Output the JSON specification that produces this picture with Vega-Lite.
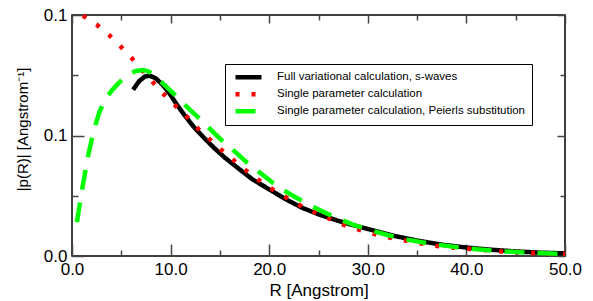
{
  "$schema": "https://vega.github.io/schema/vega-lite/v6.json",
  "width": 493,
  "height": 241,
  "autosize": {"type": "none"},
  "padding": {"left": 72, "top": 15, "right": 28, "bottom": 45},
  "background": "white",
  "config": {
    "view": {"stroke": "black", "strokeWidth": 1.5},
    "font": "Liberation Sans",
    "axis": {
      "grid": false, "domain": false, "tickColor": "#444", "tickWidth": 1.5,
      "labelFont": "Liberation Sans", "labelFontSize": 17, "labelColor": "black",
      "titleFont": "Liberation Sans", "titleFontSize": 17, "titleFontWeight": "normal", "titleColor": "black",
      "labelFlush": false, "labelOverlap": false
    },
    "legend": {
      "orient": "none", "legendX": 153, "legendY": 49, "strokeColor": "black", "fillColor": "white",
      "padding": 6, "symbolType": "stroke", "symbolSize": 676, "symbolStrokeWidth": 4.5,
      "labelFont": "Liberation Sans", "labelFontSize": 11.5, "labelColor": "black", "labelOffset": 13,
      "clipHeight": 14.5, "rowPadding": 2, "symbolOffset": 2, "labelLimit": 400
    }
  },
  "data": {"values": [
    {"series": "Full variational calculation, s-waves", "x": 6.2, "y": 0.0690},
    {"series": "Full variational calculation, s-waves", "x": 6.8, "y": 0.0725},
    {"series": "Full variational calculation, s-waves", "x": 7.4, "y": 0.0745},
    {"series": "Full variational calculation, s-waves", "x": 7.9, "y": 0.0748},
    {"series": "Full variational calculation, s-waves", "x": 8.5, "y": 0.0737},
    {"series": "Full variational calculation, s-waves", "x": 9.2, "y": 0.0710},
    {"series": "Full variational calculation, s-waves", "x": 9.9, "y": 0.0674},
    {"series": "Full variational calculation, s-waves", "x": 10.65, "y": 0.0627},
    {"series": "Full variational calculation, s-waves", "x": 11.4, "y": 0.0585},
    {"series": "Full variational calculation, s-waves", "x": 12.3, "y": 0.0538},
    {"series": "Full variational calculation, s-waves", "x": 13.3, "y": 0.0494},
    {"series": "Full variational calculation, s-waves", "x": 14.4, "y": 0.0449},
    {"series": "Full variational calculation, s-waves", "x": 15.5, "y": 0.0408},
    {"series": "Full variational calculation, s-waves", "x": 16.7, "y": 0.0369},
    {"series": "Full variational calculation, s-waves", "x": 18.3, "y": 0.0318},
    {"series": "Full variational calculation, s-waves", "x": 20.1, "y": 0.0274},
    {"series": "Full variational calculation, s-waves", "x": 21.7, "y": 0.0235},
    {"series": "Full variational calculation, s-waves", "x": 23.4, "y": 0.0199},
    {"series": "Full variational calculation, s-waves", "x": 25.2, "y": 0.0170},
    {"series": "Full variational calculation, s-waves", "x": 27.0, "y": 0.0146},
    {"series": "Full variational calculation, s-waves", "x": 28.5, "y": 0.0128},
    {"series": "Full variational calculation, s-waves", "x": 30.0, "y": 0.0112},
    {"series": "Full variational calculation, s-waves", "x": 32.5, "y": 0.0085},
    {"series": "Full variational calculation, s-waves", "x": 35.0, "y": 0.0064},
    {"series": "Full variational calculation, s-waves", "x": 37.5, "y": 0.0047},
    {"series": "Full variational calculation, s-waves", "x": 40.0, "y": 0.0035},
    {"series": "Full variational calculation, s-waves", "x": 42.5, "y": 0.0026},
    {"series": "Full variational calculation, s-waves", "x": 45.0, "y": 0.0019},
    {"series": "Full variational calculation, s-waves", "x": 47.5, "y": 0.0014},
    {"series": "Full variational calculation, s-waves", "x": 50.0, "y": 0.0011},

    {"series": "Single parameter calculation", "x": 1.1, "y": 0.0997},
    {"series": "Single parameter calculation", "x": 2.5, "y": 0.0960},
    {"series": "Single parameter calculation", "x": 3.75, "y": 0.0917},
    {"series": "Single parameter calculation", "x": 4.9, "y": 0.0871},
    {"series": "Single parameter calculation", "x": 6.0, "y": 0.0824},
    {"series": "Single parameter calculation", "x": 7.0, "y": 0.0776},
    {"series": "Single parameter calculation", "x": 8.1, "y": 0.0726},
    {"series": "Single parameter calculation", "x": 9.1, "y": 0.0680},
    {"series": "Single parameter calculation", "x": 10.2, "y": 0.0635},
    {"series": "Single parameter calculation", "x": 11.4, "y": 0.0589},
    {"series": "Single parameter calculation", "x": 12.5, "y": 0.0539},
    {"series": "Single parameter calculation", "x": 13.7, "y": 0.0494},
    {"series": "Single parameter calculation", "x": 14.8, "y": 0.0452},
    {"series": "Single parameter calculation", "x": 16.0, "y": 0.0411},
    {"series": "Single parameter calculation", "x": 17.2, "y": 0.0369},
    {"series": "Single parameter calculation", "x": 18.5, "y": 0.0328},
    {"series": "Single parameter calculation", "x": 19.8, "y": 0.0290},
    {"series": "Single parameter calculation", "x": 21.1, "y": 0.0257},
    {"series": "Single parameter calculation", "x": 22.5, "y": 0.0224},
    {"series": "Single parameter calculation", "x": 23.8, "y": 0.0195},
    {"series": "Single parameter calculation", "x": 25.4, "y": 0.0168},
    {"series": "Single parameter calculation", "x": 26.8, "y": 0.0141},
    {"series": "Single parameter calculation", "x": 28.2, "y": 0.0120},
    {"series": "Single parameter calculation", "x": 31.2, "y": 0.0085},
    {"series": "Single parameter calculation", "x": 34.5, "y": 0.0058},
    {"series": "Single parameter calculation", "x": 37.6, "y": 0.0038},
    {"series": "Single parameter calculation", "x": 40.7, "y": 0.0028},
    {"series": "Single parameter calculation", "x": 43.7, "y": 0.0018},
    {"series": "Single parameter calculation", "x": 47.0, "y": 0.0012},
    {"series": "Single parameter calculation", "x": 50.0, "y": 0.0009},

    {"series": "Single parameter calculation, Peierls substitution", "x": 0.5, "y": 0.0140},
    {"series": "Single parameter calculation, Peierls substitution", "x": 1.0, "y": 0.0270},
    {"series": "Single parameter calculation, Peierls substitution", "x": 1.6, "y": 0.0410},
    {"series": "Single parameter calculation, Peierls substitution", "x": 2.2, "y": 0.0520},
    {"series": "Single parameter calculation, Peierls substitution", "x": 2.8, "y": 0.0600},
    {"series": "Single parameter calculation, Peierls substitution", "x": 3.4, "y": 0.0650},
    {"series": "Single parameter calculation, Peierls substitution", "x": 4.0, "y": 0.0685},
    {"series": "Single parameter calculation, Peierls substitution", "x": 4.6, "y": 0.0712},
    {"series": "Single parameter calculation, Peierls substitution", "x": 5.2, "y": 0.0737},
    {"series": "Single parameter calculation, Peierls substitution", "x": 5.8, "y": 0.0755},
    {"series": "Single parameter calculation, Peierls substitution", "x": 6.5, "y": 0.0768},
    {"series": "Single parameter calculation, Peierls substitution", "x": 7.2, "y": 0.0772},
    {"series": "Single parameter calculation, Peierls substitution", "x": 7.8, "y": 0.0765},
    {"series": "Single parameter calculation, Peierls substitution", "x": 8.6, "y": 0.0740},
    {"series": "Single parameter calculation, Peierls substitution", "x": 9.5, "y": 0.0705},
    {"series": "Single parameter calculation, Peierls substitution", "x": 10.65, "y": 0.0660},
    {"series": "Single parameter calculation, Peierls substitution", "x": 12.0, "y": 0.0605},
    {"series": "Single parameter calculation, Peierls substitution", "x": 13.3, "y": 0.0556},
    {"series": "Single parameter calculation, Peierls substitution", "x": 14.3, "y": 0.0515},
    {"series": "Single parameter calculation, Peierls substitution", "x": 15.7, "y": 0.0460},
    {"series": "Single parameter calculation, Peierls substitution", "x": 16.7, "y": 0.0427},
    {"series": "Single parameter calculation, Peierls substitution", "x": 17.8, "y": 0.0386},
    {"series": "Single parameter calculation, Peierls substitution", "x": 19.1, "y": 0.0344},
    {"series": "Single parameter calculation, Peierls substitution", "x": 20.4, "y": 0.0303},
    {"series": "Single parameter calculation, Peierls substitution", "x": 21.4, "y": 0.0274},
    {"series": "Single parameter calculation, Peierls substitution", "x": 22.8, "y": 0.0241},
    {"series": "Single parameter calculation, Peierls substitution", "x": 24.1, "y": 0.0212},
    {"series": "Single parameter calculation, Peierls substitution", "x": 25.5, "y": 0.0183},
    {"series": "Single parameter calculation, Peierls substitution", "x": 27.0, "y": 0.0155},
    {"series": "Single parameter calculation, Peierls substitution", "x": 28.5, "y": 0.0130},
    {"series": "Single parameter calculation, Peierls substitution", "x": 30.0, "y": 0.0110},
    {"series": "Single parameter calculation, Peierls substitution", "x": 32.0, "y": 0.0087},
    {"series": "Single parameter calculation, Peierls substitution", "x": 34.0, "y": 0.0068},
    {"series": "Single parameter calculation, Peierls substitution", "x": 36.0, "y": 0.0053},
    {"series": "Single parameter calculation, Peierls substitution", "x": 38.5, "y": 0.0039},
    {"series": "Single parameter calculation, Peierls substitution", "x": 41.0, "y": 0.0028},
    {"series": "Single parameter calculation, Peierls substitution", "x": 43.5, "y": 0.0020},
    {"series": "Single parameter calculation, Peierls substitution", "x": 46.0, "y": 0.0014},
    {"series": "Single parameter calculation, Peierls substitution", "x": 48.0, "y": 0.0011},
    {"series": "Single parameter calculation, Peierls substitution", "x": 50.0, "y": 0.0008}
  ]},
  "resolve": {"axis": {"x": "independent", "y": "independent"}},
  "layer": [
    {
      "transform": [{"filter": "datum.series == 'Full variational calculation, s-waves'"}],
      "mark": {"type": "line", "strokeWidth": 4.5, "strokeCap": "butt"},
      "encoding": {
        "x": {"field": "x", "type": "quantitative", "scale": {"domain": [0, 50], "nice": false},
          "axis": {"orient": "bottom", "values": [0,5,10,15,20,25,30,35,40,45,50],
            "labelExpr": "datum.value % 10 == 0 ? format(datum.value, '.1f') : ''",
            "tickSize": {"condition": {"test": "datum.value % 10 == 0", "value": -12}, "value": -6},
            "labelPadding": 17, "title": "R [Angstrom]", "titlePadding": -1}},
        "y": {"field": "y", "type": "quantitative", "scale": {"domain": [0, 0.1], "nice": false},
          "axis": {"orient": "left", "values": [0,0.025,0.05,0.075,0.1],
            "labelExpr": "round(datum.value*1000) % 50 == 0 ? format(datum.value, '.1f') : ''",
            "tickSize": {"condition": {"test": "round(datum.value*1000) % 50 == 0", "value": -12}, "value": -6},
            "labelPadding": 17, "title": "|p(R)| [Angstrom⁻¹]", "titleFontSize": 15, "titlePadding": 13, "titleY": 114}},
        "color": {"field": "series", "type": "nominal", "title": null,
          "scale": {"domain": ["Full variational calculation, s-waves", "Single parameter calculation", "Single parameter calculation, Peierls substitution"], "range": ["black", "red", "#00ff00"]}},
        "strokeDash": {"field": "series", "type": "nominal", "title": null,
          "scale": {"domain": ["Full variational calculation, s-waves", "Single parameter calculation", "Single parameter calculation, Peierls substitution"], "range": [[1, 0], [4, 12], [20, 13]]}}
      }
    },
    {
      "transform": [{"filter": "datum.series == 'Single parameter calculation'"}],
      "mark": {"type": "line", "strokeWidth": 4.5, "strokeCap": "butt"},
      "encoding": {
        "x": {"field": "x", "type": "quantitative",
          "axis": {"orient": "top", "values": [0,5,10,15,20,25,30,35,40,45,50], "labels": false, "title": null,
            "tickSize": {"condition": {"test": "datum.value % 10 == 0", "value": -8}, "value": -5}}},
        "y": {"field": "y", "type": "quantitative",
          "axis": {"orient": "right", "values": [0,0.025,0.05,0.075,0.1], "labels": false, "title": null,
            "tickSize": {"condition": {"test": "round(datum.value*1000) % 50 == 0", "value": -8}, "value": -5}}},
        "color": {"field": "series", "type": "nominal", "title": null},
        "strokeDash": {"field": "series", "type": "nominal", "title": null}
      }
    },
    {
      "transform": [{"filter": "datum.series == 'Single parameter calculation, Peierls substitution'"}],
      "mark": {"type": "line", "strokeWidth": 4.5, "strokeCap": "butt"},
      "encoding": {
        "x": {"field": "x", "type": "quantitative", "axis": null},
        "y": {"field": "y", "type": "quantitative", "axis": null},
        "color": {"field": "series", "type": "nominal", "title": null},
        "strokeDash": {"field": "series", "type": "nominal", "title": null}
      }
    }
  ]
}
